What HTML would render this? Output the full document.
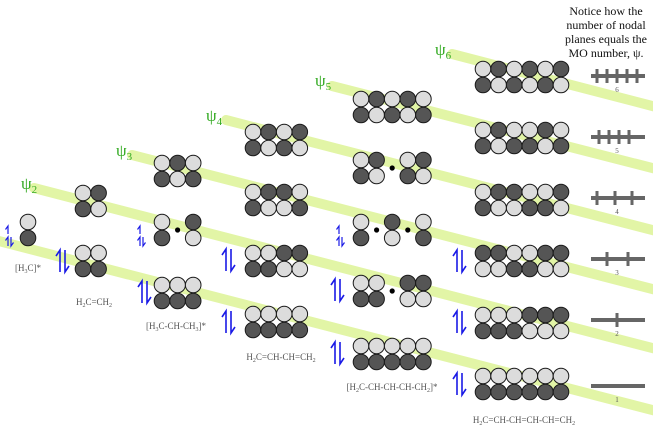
<!DOCTYPE html>
<html><head><meta charset="utf-8"><style>
html,body{margin:0;padding:0;background:#fff;}
svg{display:block;}
text{font-family:"Liberation Serif",serif;}
</style></head><body>
<svg id="s" width="653" height="429" viewBox="0 0 653 429" xmlns="http://www.w3.org/2000/svg">
<g stroke="#e2f5a6" stroke-width="10" stroke-linecap="round">
<line x1="-5" y1="240" x2="660" y2="412"/>
<line x1="34" y1="188" x2="660" y2="350"/>
<line x1="132" y1="155" x2="660" y2="291"/>
<line x1="226" y1="120" x2="660" y2="232"/>
<line x1="332" y1="86" x2="660" y2="170"/>
<line x1="452" y1="54" x2="660" y2="108"/>
</g>
<g fill="#33aa22" font-size="17">
<text x="21" y="189">ψ<tspan font-size="11" dy="4">2</tspan></text>
<text x="116" y="156">ψ<tspan font-size="11" dy="4">3</tspan></text>
<text x="206" y="121">ψ<tspan font-size="11" dy="4">4</tspan></text>
<text x="315" y="86">ψ<tspan font-size="11" dy="4">5</tspan></text>
<text x="435" y="55">ψ<tspan font-size="11" dy="4">6</tspan></text>
</g>
<g fill="#111" font-size="12" text-anchor="middle">
<text x="606" y="15">Notice how the</text>
<text x="606" y="29">number of nodal</text>
<text x="606" y="43">planes equals the</text>
<text x="606" y="57">MO number, ψ.</text>
</g>
<g fill="#555" font-size="9" text-anchor="middle">
<text x="28" y="271">[H<tspan font-size="6" dy="2">3</tspan><tspan dy="-2">C]*</tspan></text>
<text x="94" y="305">H<tspan font-size="6" dy="2">2</tspan><tspan dy="-2">C=CH</tspan><tspan font-size="6" dy="2">2</tspan></text>
<text x="176" y="329">[H<tspan font-size="6" dy="2">3</tspan><tspan dy="-2">C-CH-CH</tspan><tspan font-size="6" dy="2">3</tspan><tspan dy="-2">]*</tspan></text>
<text x="281" y="360">H<tspan font-size="6" dy="2">2</tspan><tspan dy="-2">C=CH-CH=CH</tspan><tspan font-size="6" dy="2">2</tspan></text>
<text x="392" y="390">[H<tspan font-size="6" dy="2">2</tspan><tspan dy="-2">C-CH-CH-CH-CH</tspan><tspan font-size="6" dy="2">2</tspan><tspan dy="-2">]*</tspan></text>
<text x="524" y="423">H<tspan font-size="6" dy="2">2</tspan><tspan dy="-2">C=CH-CH=CH-CH=CH</tspan><tspan font-size="6" dy="2">2</tspan></text>
</g>
<g id="mo"></g>
<g id="ar" stroke="#1a1ae6" stroke-width="1.6" fill="none"></g>
<g id="np"></g>
</svg>
<script>
var NS="http://www.w3.org/2000/svg";
function el(p,t,a){var e=document.createElementNS(NS,t);for(var k in a)e.setAttribute(k,a[k]);document.getElementById(p).appendChild(e);return e;}
var S=15.6,R=7.8;
function mo(x0,y,top,bot){
 for(var r=0;r<2;r++){var pat=r?bot:top;
  for(var i=0;i<pat.length;i++){var c=pat[i],x=x0+i*S,yy=y+r*16;
   if(c=='.'){ if(r==0) el('mo','circle',{cx:x,cy:y+8,r:2.6,fill:'#000'}); continue;}
   el('mo','circle',{cx:x,cy:yy,r:R,fill:c=='L'?'#dcdcdc':'#555',stroke:'#1a1a1a','stroke-width':1});
  }}
}
mo(28,222,"L","D");
mo(83,193,"LD","DL");mo(83,253,"LL","DD");
mo(162,163,"LDL","DLD");mo(162,222,"L.D","D.L");mo(162,285,"LLL","DDD");
mo(253,132,"LDLD","DLDL");mo(253,192,"LDDL","DLLD");mo(253,253,"LLDD","DDLL");mo(253,314,"LLLL","DDDD");
mo(361,99,"LDLDL","DLDLD");mo(361,160,"LD.LD","DL.DL");mo(361,222,"L.D.L","D.L.D");mo(361,283,"LL.DD","DD.LL");mo(361,346,"LLLLL","DDDDD");
mo(483,69,"LDLDLD","DLDLDL");mo(483,130,"LDLLDL","DLDDLD");mo(483,192,"LDDLLD","DLLDDL");mo(483,253,"DDLLDD","LLDDLL");mo(483,315,"LLLDDD","DDDLLL");mo(483,376,"LLLLLL","DDDDDD");
function big(x,y){
 el('ar','path',{d:'M'+x+' '+(y+11)+'V'+(y-11)+'l-4 6'});
 el('ar','path',{d:'M'+(x+5)+' '+(y-11)+'V'+(y+11)+'l4 -6'});
}
function small(x,y){
 el('ar','path',{d:'M'+x+' '+(y-2)+'V'+(y-10)+'l-2.5 3.5',"stroke-width":1.2});
 el('ar','path',{d:'M'+x+' '+(y+10)+'V'+(y+1)+'l-2.5 3.5',"stroke-width":1.2});
 el('ar','path',{d:'M'+(x+3)+' '+(y+1)+'V'+(y+10)+'l2.5 -3.5',"stroke-width":1.2});
}
big(60,261);big(142,292);big(226,260);big(226,322);big(335,290);big(335,353);
big(457,261);big(457,322);big(457,384);
small(8,236);small(140,236);small(339,236);
var bars=[[76,[597,607,617,627,637],6],[137,[599,609,619,629],5],[198,[597,615,632],4],[259,[607,628],3],[320,[617],2],[386,[],1]];
bars.forEach(function(b){
 el('np','rect',{x:591,y:b[0]-2,width:54,height:4,fill:'#666'});
 b[1].forEach(function(t){el('np','rect',{x:t-1.5,y:b[0]-7,width:3,height:14,fill:'#666'});});
 var tx=el('np','text',{x:617,y:b[0]+16,'font-size':7,fill:'#555','text-anchor':'middle'});tx.textContent=b[2];
});
</script>
</body></html>
